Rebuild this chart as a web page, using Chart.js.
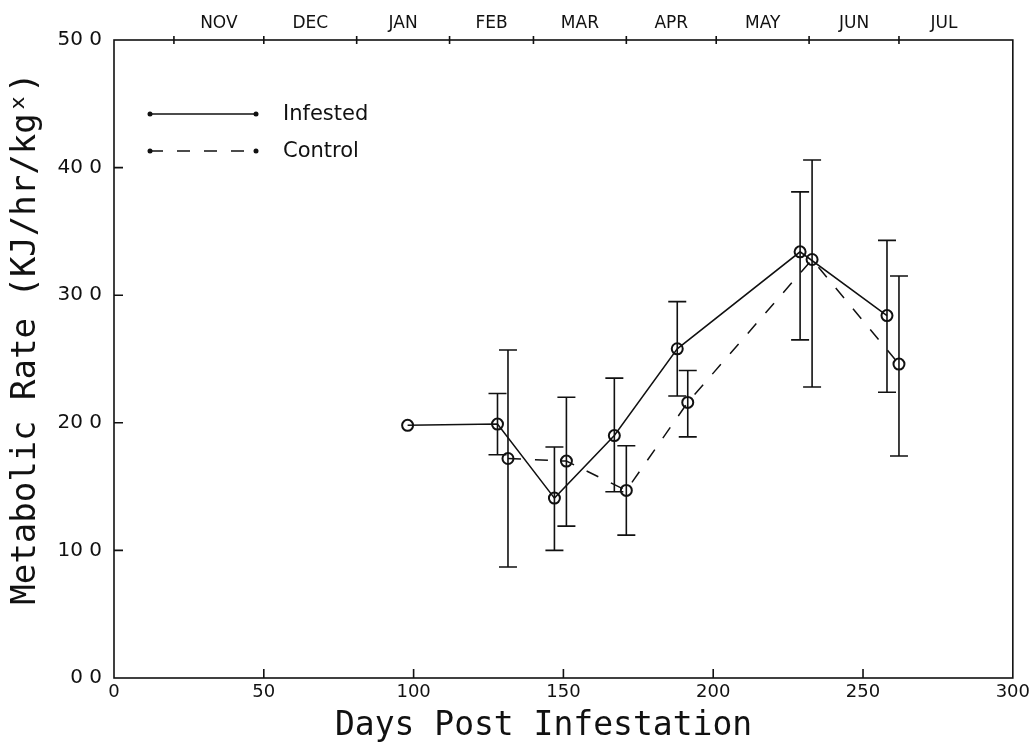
<!DOCTYPE html>
<html>
<head>
<meta charset="utf-8">
<script src="https://cdn.jsdelivr.net/npm/chart.js@4.4.1/dist/chart.umd.min.js"></script>
<style>
  html, body { margin: 0; padding: 0; background: #fff; }
  #wrap { width: 1034px; height: 746px; }
</style>
</head>
<body>
<div id="wrap"><canvas id="chart" width="1034" height="746"></canvas></div>
<script>
// data
const dayInfested  = [98, 128, 147, 167, 188, 229, 258];
const rateInfested = [19.8, 19.9, 14.1, 19.0, 25.8, 33.4, 28.4];
const hiInfested   = [null, 22.3, 18.1, 23.5, 29.5, 38.1, 34.3];
const loInfested   = [null, 17.5, 10.0, 14.6, 22.1, 26.5, 22.4];

const dayControl  = [131.5, 151, 171, 191.5, 233, 262];
const rateControl = [17.2, 17.0, 14.7, 21.6, 32.8, 24.6];
const hiControl   = [25.7, 22.0, 18.2, 24.1, 40.6, 31.5];
const loControl   = [8.7, 11.9, 11.2, 18.9, 22.8, 17.4];

// month boundaries on the top axis (days post infestation)
const monthTicks  = [20, 50, 81, 112, 140, 171, 201, 232, 262, 292];
const monthNames  = ["NOV", "DEC", "JAN", "FEB", "MAR", "APR", "MAY", "JUN", "JUL"];
const xTickValues = [0, 50, 100, 150, 200, 250, 300];
const yTickValues = [0, 10, 20, 30, 40, 50];

const monthMid = monthNames.map((m, i) => (monthTicks[i] + monthTicks[i + 1]) / 2);
const toPts = (xs, ys) => xs.map((x, i) => ({ x: x, y: ys[i] }));

Chart.defaults.font.family = "'DejaVu Sans', sans-serif";
Chart.defaults.color = "#111";

// error bars, frame, inner ticks and the legend
const extras = {
  id: "extras",
  afterDatasetsDraw(chart) {
    const { ctx, chartArea: a, scales } = chart;
    const xs = scales.x, ys = scales.y;
    ctx.save();
    ctx.strokeStyle = "#111";
    ctx.fillStyle = "#111";
    ctx.lineWidth = 1.6;

    const bars = (days, hi, lo) => {
      days.forEach((d, i) => {
        if (hi[i] == null) return;
        const px = xs.getPixelForValue(d);
        const top = ys.getPixelForValue(hi[i]);
        const bot = ys.getPixelForValue(lo[i]);
        ctx.beginPath();
        ctx.moveTo(px, top); ctx.lineTo(px, bot);
        ctx.moveTo(px - 9, top); ctx.lineTo(px + 9, top);
        ctx.moveTo(px - 9, bot); ctx.lineTo(px + 9, bot);
        ctx.stroke();
      });
    };
    bars(dayInfested, hiInfested, loInfested);
    bars(dayControl, hiControl, loControl);

    // frame
    ctx.strokeRect(a.left, a.top, a.right - a.left, a.bottom - a.top);

    // inner ticks
    ctx.beginPath();
    xTickValues.slice(1, -1).forEach(v => {
      const px = xs.getPixelForValue(v);
      ctx.moveTo(px, a.bottom); ctx.lineTo(px, a.bottom - 9);
    });
    yTickValues.slice(1, -1).forEach(v => {
      const py = ys.getPixelForValue(v);
      ctx.moveTo(a.left, py); ctx.lineTo(a.left + 9, py);
    });
    // month marks on the top edge
    monthTicks.slice(0, -1).forEach(v => {
      const px = xs.getPixelForValue(v);
      ctx.moveTo(px, a.top - 4); ctx.lineTo(px, a.top + 4);
    });
    ctx.stroke();

    // legend
    const lx0 = a.left + 36, lx1 = a.left + 142, tx = a.left + 169;
    const rows = [{ y: a.top + 74, text: "Infested", dash: [] },
                  { y: a.top + 111, text: "Control", dash: [13, 14] }];
    ctx.font = "21px 'DejaVu Sans'";
    ctx.textBaseline = "middle";
    rows.forEach(r => {
      ctx.setLineDash(r.dash);
      ctx.beginPath();
      ctx.moveTo(lx0, r.y); ctx.lineTo(lx1, r.y);
      ctx.stroke();
      ctx.setLineDash([]);
      [lx0, lx1].forEach(x => { ctx.beginPath(); ctx.arc(x, r.y, 2.5, 0, Math.PI * 2); ctx.fill(); });
      ctx.fillText(r.text, tx, r.y + 1);
    });
    ctx.restore();
  }
};

new Chart(document.getElementById("chart"), {
  type: "line",
  data: {
    datasets: [
      {
        label: "Infested",
        data: toPts(dayInfested, rateInfested),
        borderColor: "#111",
        borderWidth: 1.5,
        pointRadius: 5.5,
        pointBorderWidth: 2,
        pointBackgroundColor: "rgba(0,0,0,0)",
        pointBorderColor: "#111",
        tension: 0
      },
      {
        label: "Control",
        data: toPts(dayControl, rateControl),
        borderColor: "#111",
        borderWidth: 1.5,
        borderDash: [13, 14],
        pointRadius: 5.5,
        pointBorderWidth: 2,
        pointBackgroundColor: "rgba(0,0,0,0)",
        pointBorderColor: "#111",
        tension: 0
      }
    ]
  },
  options: {
    responsive: false,
    animation: false,
    layout: { padding: { left: 0, right: 18, top: 0, bottom: 0 } },
    plugins: { legend: { display: false }, tooltip: { enabled: false } },
    scales: {
      x: {
        type: "linear",
        position: "bottom",
        min: 0, max: 300,
        afterBuildTicks: s => { s.ticks = xTickValues.map(v => ({ value: v })); },
        afterFit: s => { s.height = 68; },
        grid: { display: false, drawTicks: false },
        border: { display: false },
        ticks: { padding: 4, maxRotation: 0, autoSkip: false, font: { size: 18 } },
        title: {
          display: true,
          text: "Days Post Infestation  ",
          font: { family: "'DejaVu Sans Mono', monospace", size: 33 },
          padding: { top: 0, bottom: 0 }
        }
      },
      xTop: {
        type: "linear",
        position: "top",
        min: 0, max: 300,
        afterBuildTicks: s => { s.ticks = monthMid.map(v => ({ value: v })); },
        afterFit: s => { s.height = 40; },
        grid: { display: false, drawTicks: false },
        border: { display: false },
        ticks: {
          padding: 6, maxRotation: 0, autoSkip: false, font: { size: 17 },
          callback: (v, i) => monthNames[i]
        }
      },
      y: {
        min: 0, max: 50,
        afterBuildTicks: s => { s.ticks = yTickValues.map(v => ({ value: v })); },
        afterFit: s => { s.width = 114; },
        grid: { display: false, drawTicks: false },
        border: { display: false },
        ticks: {
          padding: 12, font: { size: 20 },
          callback: v => v + " 0"
        },
        title: {
          display: true,
          text: "  Metabolic Rate (KJ/hr/kgˣ)",
          font: { family: "'DejaVu Sans Mono', monospace", size: 34 },
          padding: { top: 6, bottom: 0 }
        }
      }
    }
  },
  plugins: [extras]
});
</script>
</body>
</html>
